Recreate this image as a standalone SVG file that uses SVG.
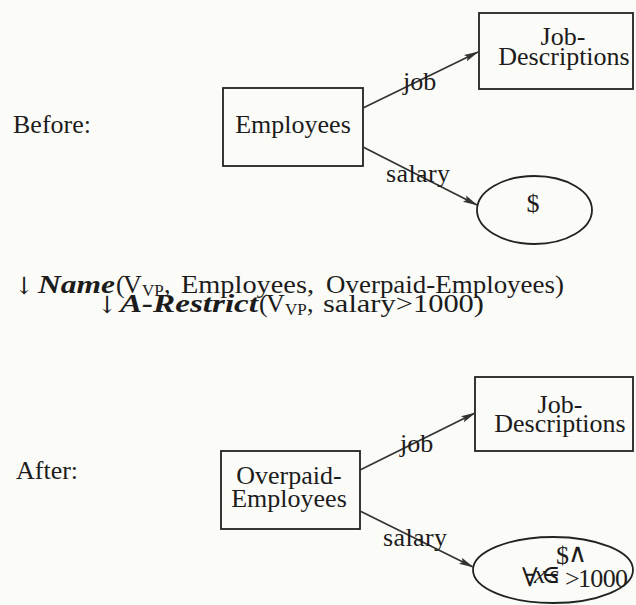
<svg xmlns="http://www.w3.org/2000/svg" width="636" height="605" viewBox="0 0 636 605">
  <style>
    .bg { fill: #fbfbf7; }
    .box { fill: none; stroke: #222; stroke-width: 1.8; }
    .edge { fill: none; stroke: #333; stroke-width: 1.7; }
    text { font-family: "Liberation Serif", "Times New Roman", serif; fill: #1c1c1c; font-size: 26px; }
    .mid { text-anchor: middle; }
    .bi { font-weight: bold; font-style: italic; }
    .sub { font-size: 17px; }
    .sym { font-family: "DejaVu Serif", "Liberation Serif", serif; }
    .arr { font-family: "DejaVu Serif", "Liberation Serif", serif; font-size: 24px; }
  </style>
  <defs>
    <marker id="arrow" markerUnits="userSpaceOnUse" markerWidth="16" markerHeight="10" refX="14" refY="4" orient="auto">
      <path d="M0,0.6 L15,4 L0,7.4 L2.5,4 Z" fill="#333"/>
    </marker>
  </defs>

  <rect class="bg" x="0" y="0" width="636" height="605"/>

  <!-- upper schema -->
  <text x="13" y="133">Before:</text>

  <g id="employees">
    <rect class="box" x="223" y="88" width="140" height="78"/>
    <text class="mid" x="293" y="133">Employees</text>
  </g>

  <g id="job-descriptions-1">
    <rect class="box" x="479" y="13" width="154" height="76"/>
    <text class="mid" x="563" y="45" font-size="25">Job-</text>
    <text class="mid" x="564" y="65" font-size="25">Descriptions</text>
  </g>

  <g id="dollar-1">
    <ellipse class="box" cx="534.5" cy="210" rx="57.5" ry="34"/>
    <text class="mid" x="533" y="212" font-size="22">$</text>
  </g>

  <!-- lower schema -->
  <text x="16" y="479">After:</text>

  <g id="overpaid-employees">
    <rect class="box" x="221" y="451" width="139" height="78"/>
    <text class="mid" x="289" y="484">Overpaid-</text>
    <text class="mid" x="289" y="507">Employees</text>
  </g>

  <g id="job-descriptions-2">
    <rect class="box" x="475" y="377" width="158" height="74"/>
    <text class="mid" x="560" y="413" font-size="25">Job-</text>
    <text class="mid" x="560" y="432" font-size="25">Descriptions</text>
  </g>

  <g id="dollar-restricted">
    <ellipse class="box" cx="553" cy="570" rx="80" ry="33"/>
    <text x="522" y="586" class="sym" font-size="16">∀</text>
    <text x="534" y="583" font-size="13" font-style="italic">x</text>
    <text x="541" y="583" class="sym" font-size="11">∈</text>
    <text x="549" y="583" font-size="13" font-style="italic">s</text>
    <text x="556" y="564" font-size="17">$</text>
    <text x="568" y="562" class="sym" font-size="15">∧</text>
    <text x="565" y="587" font-size="22">&gt;</text>
    <text x="578" y="587" font-size="26" textLength="50">1000</text>
  </g>

  <!-- attribute connectors -->
  <g id="connectors">
    <line class="edge" x1="363" y1="108" x2="478" y2="52" marker-end="url(#arrow)"/>
    <line class="edge" x1="363" y1="147" x2="477" y2="205" marker-end="url(#arrow)"/>
    <line class="edge" x1="360" y1="470" x2="475" y2="413" marker-end="url(#arrow)"/>
    <line class="edge" x1="360" y1="511" x2="473" y2="567" marker-end="url(#arrow)"/>
  </g>

  <g id="connector-labels">
    <text x="403" y="90" font-size="25">job</text>
    <text x="386" y="182" textLength="64">salary</text>
    <text x="400" y="452" font-size="25">job</text>
    <text x="383" y="546" textLength="64">salary</text>
  </g>

  <!-- transformation steps -->
  <g id="operations">
    <text y="294"><tspan x="14" class="arr">↓</tspan><tspan x="38" y="293" class="bi" textLength="77" lengthAdjust="spacingAndGlyphs">Name</tspan><tspan x="116">(</tspan><tspan x="123">V</tspan><tspan x="142" dy="3" class="sub">VP</tspan><tspan x="164" dy="-3">,</tspan><tspan x="181" textLength="133" lengthAdjust="spacingAndGlyphs">Employees,</tspan><tspan x="326" textLength="238" lengthAdjust="spacingAndGlyphs">Overpaid-Employees)</tspan></text>
    <text y="313"><tspan x="97" class="arr">↓</tspan><tspan x="120" y="312" class="bi" textLength="138" lengthAdjust="spacingAndGlyphs">A-Restrict</tspan><tspan x="259">(</tspan><tspan x="266">V</tspan><tspan x="285" dy="3" class="sub">VP</tspan><tspan x="307" dy="-3">,</tspan><tspan x="323" textLength="161" lengthAdjust="spacingAndGlyphs">salary&gt;1000)</tspan></text>
  </g>
</svg>
